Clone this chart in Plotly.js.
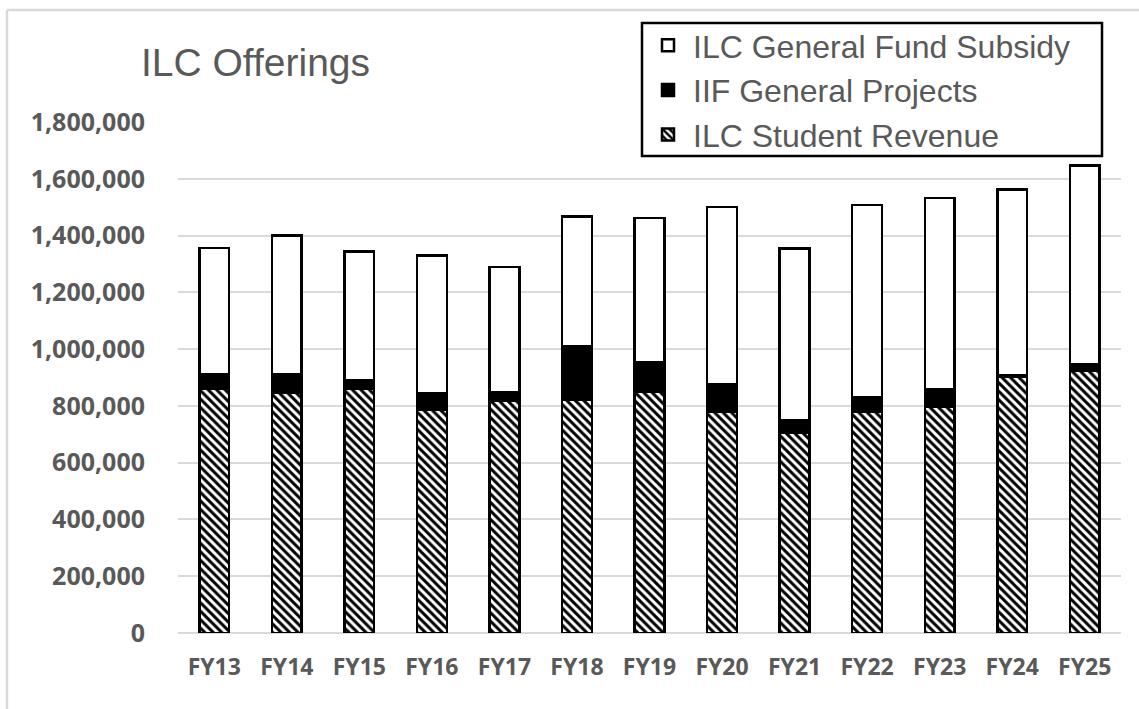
<!DOCTYPE html>
<html>
<head>
<meta charset="utf-8">
<script src="https://cdn.plot.ly/plotly-3.0.1.min.js"></script>
<style>html,body{margin:0;padding:0;background:#fff;}#chart{width:1139px;height:709px;}</style>
</head>
<body>
<div id="chart"></div>
<script>
const categories = ['FY13','FY14','FY15','FY16','FY17','FY18','FY19','FY20','FY21','FY22','FY23','FY24','FY25'];
const studentRevenue = [862000, 847000, 862000, 785000, 818000, 822000, 850000, 778000, 706000, 778000, 796000, 902000, 925000];
const iifProjects    = [ 51000,  66000,  30000,  58000,  30000, 188000, 104000,  99000,  43000,  52000,  63000,   5000,  22000];
const gfSubsidy      = [443000, 488000, 452000, 486000, 441000, 458000, 508000, 624000, 606000, 678000, 674000, 655000, 700000];
const yTickVals = [0,200000,400000,600000,800000,1000000,1200000,1400000,1600000,1800000];
const yTickText = ['0','200,000','400,000','600,000','800,000','1,000,000','1,200,000','1,400,000','1,600,000','1,800,000'];

const lineStyle = {color:'#000', width:2.5};
const traces = [
  {type:'bar', name:'ILC Student Revenue', x:categories, y:studentRevenue,
   marker:{color:'#fff', line:lineStyle, pattern:{shape:'\\', fgcolor:'#000', bgcolor:'#fff', size:6, solidity:0.5}}},
  {type:'bar', name:'IIF General Projects', x:categories, y:iifProjects,
   marker:{color:'#000', line:lineStyle}},
  {type:'bar', name:'ILC General Fund Subsidy', x:categories, y:gfSubsidy,
   marker:{color:'#fff', line:lineStyle}}
];

// plot area in pixels: x 178..1121, y 122..633
const px = v => (v - 178) / 943;
const py = v => (633 - v) / 511;

const layout = {
  width:1139, height:709,
  paper_bgcolor:'#fff', plot_bgcolor:'#fff',
  barmode:'stack', bargap:0.59,
  margin:{l:178, r:18, t:122, b:76},
  showlegend:true,
  title:{text:'ILC Offerings', x:141/1139, xanchor:'left', xref:'container', y:1-62/709, yref:'container', yanchor:'middle',
         font:{family:'Liberation Sans, Arial, sans-serif', size:39, color:'#595959'}},
  xaxis:{type:'category', showgrid:false, showline:false, zeroline:false, ticks:'',
         ticklabelstandoff:18,
         tickfont:{family:'Open Sans, sans-serif', size:23, weight:700, color:'#595959'}},
  yaxis:{range:[0,1800000], tickvals:yTickVals, ticktext:yTickText, showgrid:true,
         gridcolor:'#d9d9d9', gridwidth:2, zeroline:true, zerolinecolor:'#d9d9d9', zerolinewidth:2,
         showline:false, ticks:'', ticklabelstandoff:32,
         tickfont:{family:'Open Sans, sans-serif', size:25, weight:700, color:'#595959'}},
  legend:{x:px(643), xanchor:'left', y:py(18), yanchor:'top', traceorder:'reversed',
          itemwidth:40, tracegroupgap:0,
          bgcolor:'rgba(0,0,0,0)', borderwidth:0,
          font:{family:'Liberation Sans, Arial, sans-serif', size:32, color:'#595959'}},
  shapes:[
    {type:'line', xref:'paper', yref:'paper', x0:px(7), x1:1.2, y0:py(10), y1:py(10), line:{color:'#d9d9d9', width:2.5}},
    {type:'line', xref:'paper', yref:'paper', x0:px(7), x1:px(7), y0:py(10), y1:-0.2, line:{color:'#d9d9d9', width:2.5}},
    {type:'rect', xref:'paper', yref:'paper', layer:'above', x0:px(642), x1:px(1102), y0:py(23), y1:py(156),
     fillcolor:'#fff', line:{color:'#000', width:2.5}}
  ]
};
Plotly.newPlot('chart', traces, layout, {displayModeBar:false, staticPlot:true});
</script>
</body>
</html>
